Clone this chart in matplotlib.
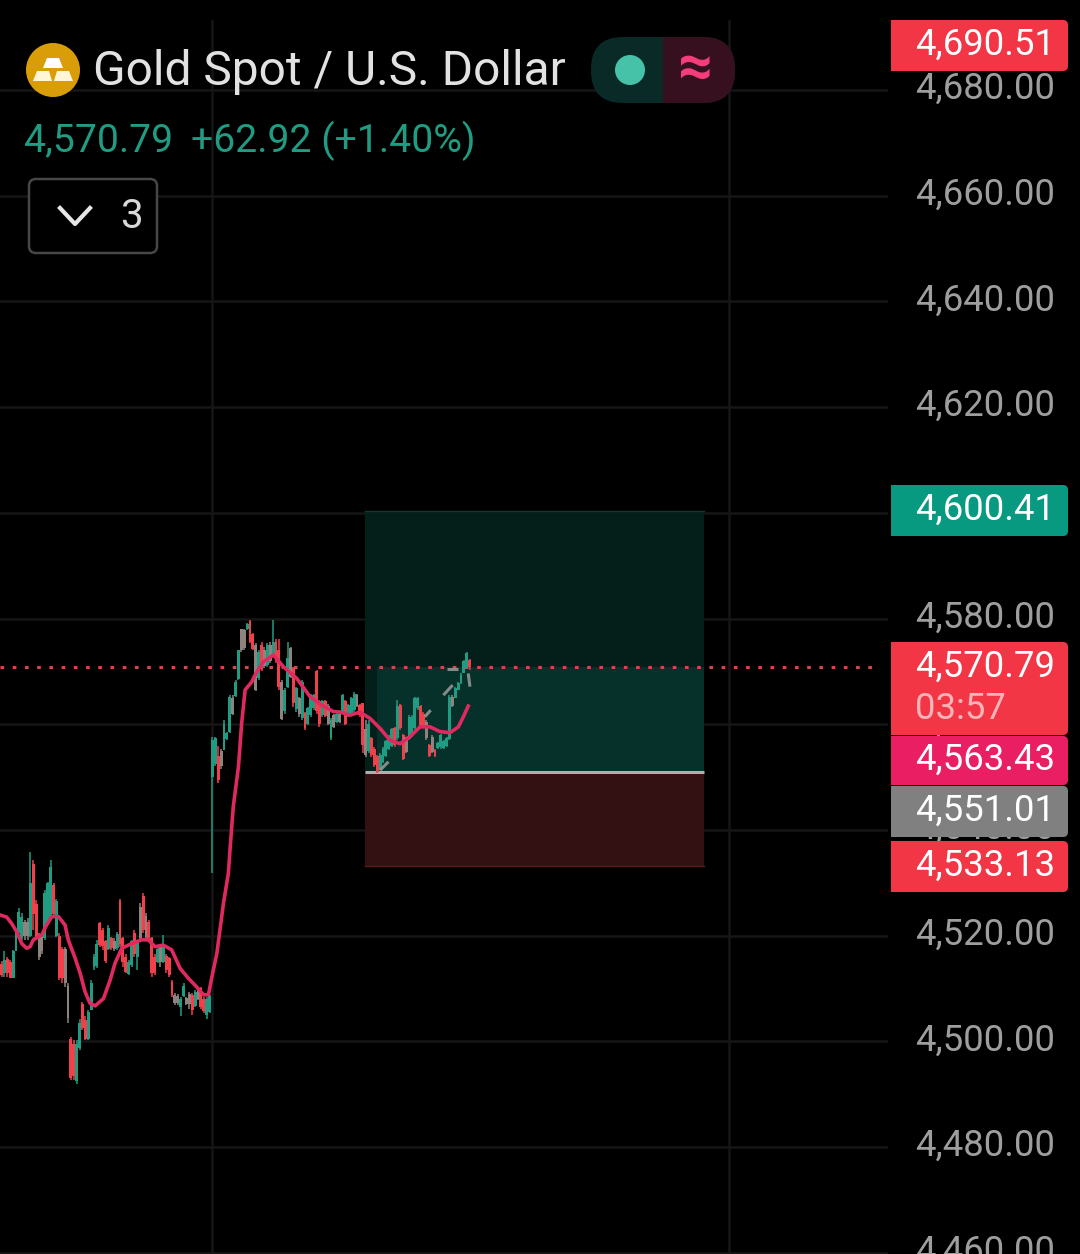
import numpy as np
import matplotlib
matplotlib.use("Agg")
import matplotlib.pyplot as plt
from matplotlib.patches import FancyBboxPatch, Rectangle, Circle, Polygon
from matplotlib.transforms import ScaledTranslation

plt.rcParams['font.family'] = ['Roboto', 'DejaVu Sans']

# candles
opens = [4514.7, 4512.9, 4515.5, 4515, 4512, 4517, 4520.4, 4519.5, 4522.5, 4520,
         4520, 4533.5, 4526, 4520, 4517, 4519.5, 4522.5, 4523.5, 4529.5, 4520,
         4520, 4517.5, 4517.5, 4510.5, 4500.5, 4499.5, 4492.5, 4498.8, 4507, 4504,
         4500.5, 4506, 4514, 4514.2, 4522.3, 4521, 4519, 4517.5, 4519.5, 4517.5,
         4517.6, 4526.5, 4519.5, 4516, 4512.8, 4514.5, 4520.5, 4516, 4519.5, 4527.5,
         4523.8, 4522.5, 4519.5, 4516, 4515, 4517.8, 4515, 4516.2, 4515.7, 4511.3,
         4508.8, 4507.2, 4506.5, 4508.6, 4508.2, 4507, 4508.8, 4506.7, 4508, 4510,
         4508, 4505, 4505.5, 4550, 4552.5, 4554, 4555, 4555.2, 4557.2, 4558.5,
         4565, 4565.3, 4568.5, 4574, 4577.8, 4578, 4579.5, 4577, 4575, 4568.8,
         4575, 4571, 4571.2, 4575, 4573, 4575.5, 4574, 4568, 4562.5, 4567,
         4574.4, 4570.6, 4562.8, 4565, 4561.2, 4562.2, 4560, 4561.8, 4563, 4570,
         4564.3, 4561.7, 4564.3, 4563.5, 4557.3, 4559.4, 4560.4, 4560.5, 4562.2, 4564.3,
         4561.6, 4562.2, 4562.6, 4565.5, 4563.6, 4564, 4554.2, 4555, 4557.4, 4555.4,
         4553.9, 4551.5, 4552.8, 4554, 4555.3, 4555.9, 4559.2, 4557.3, 4563.6, 4558,
         4554.8, 4557.3, 4558, 4559.2, 4563, 4563.4, 4562, 4560.5, 4556, 4557.6,
         4555.2, 4555.5, 4555.6, 4555.5, 4555.8, 4557.2, 4563.5, 4565, 4566.5, 4567.8,
         4569.7, 4570.7, 4572.2]
highs = [4515.1, 4517, 4516, 4515.4, 4517.3, 4521, 4525.2, 4524.2, 4523, 4523.3,
         4535.9, 4534.3, 4526.7, 4520.4, 4520.4, 4528.6, 4530.2, 4534.3, 4529.9, 4527,
         4520.4, 4517.9, 4517.9, 4511, 4500.9, 4500.2, 4500.2, 4504.3, 4507.5, 4504.7,
         4505.9, 4511.6, 4516.6, 4519.2, 4522.6, 4521.4, 4519.2, 4522, 4519.8, 4519.5,
         4520.7, 4527, 4519.8, 4516.6, 4515.4, 4519.2, 4521, 4519.2, 4526.1, 4528,
         4524.2, 4523, 4519.8, 4516.6, 4517.9, 4518.5, 4520.1, 4516.6, 4516, 4511.6,
         4509.1, 4509, 4508.4, 4511, 4508.4, 4509.4, 4509.1, 4509.7, 4510.3, 4510.3,
         4508.4, 4508.4, 4508.8, 4557.6, 4557.6, 4555.8, 4555.4, 4560.8, 4558.6, 4565.5,
         4565.5, 4568.4, 4574, 4578.1, 4578.1, 4579.1, 4579.8, 4577.2, 4575.3, 4574,
         4575.6, 4574.7, 4575.3, 4575.6, 4579.7, 4576.2, 4576.2, 4568.4, 4566.8, 4575.6,
         4574.7, 4570.9, 4567.1, 4565.2, 4568.4, 4562.4, 4563.3, 4565.8, 4565.8, 4570.3,
         4564.6, 4564.6, 4564.6, 4563.9, 4561.1, 4562, 4562.4, 4562.4, 4565.8, 4564.6,
         4563.9, 4565.2, 4566, 4565.8, 4563.9, 4564, 4560.8, 4560.8, 4557.6, 4555.7,
         4554.1, 4554.5, 4555.7, 4557, 4557.9, 4559.2, 4559.5, 4564.5, 4563.9, 4558.2,
         4557.6, 4561.7, 4561.7, 4565.2, 4565.2, 4563.6, 4562.3, 4560.8, 4556.3, 4557.9,
         4555.4, 4556.7, 4558.2, 4557, 4557.6, 4565.5, 4565.5, 4567.1, 4568, 4569.6,
         4572.1, 4573.7, 4572.4]
lows = [4512.2, 4512.2, 4512.2, 4511.9, 4511.9, 4517, 4520.4, 4519.2, 4519.2, 4519.2,
        4519.8, 4521, 4519.2, 4515.4, 4516.6, 4519.2, 4522.3, 4523, 4523.6, 4519.8,
        4511.6, 4511, 4510.3, 4503.4, 4492.7, 4492.7, 4492, 4498.4, 4502.1, 4500.2,
        4500.2, 4505.9, 4513.5, 4513.8, 4517.9, 4517.3, 4514.8, 4517.3, 4517.3, 4517,
        4517.3, 4517.9, 4514.1, 4512.9, 4512.5, 4514.1, 4516, 4513.5, 4519.2, 4520.4,
        4519.2, 4519.2, 4512.2, 4512.5, 4514.8, 4514.1, 4514.8, 4512.9, 4512.2, 4508.4,
        4506.9, 4506.8, 4504.7, 4508.4, 4506.9, 4506.2, 4505, 4506.5, 4507.8, 4506.2,
        4505.3, 4504.3, 4505.3, 4531.8, 4552, 4548.8, 4551.6, 4555.1, 4557, 4558.3,
        4561.7, 4565.2, 4568.4, 4573.7, 4574, 4577.8, 4575.3, 4574, 4566.2, 4568.4,
        4570, 4570.6, 4570.9, 4571.5, 4572.8, 4571.5, 4566.5, 4560.8, 4562, 4566.8,
        4568.7, 4563.3, 4562.4, 4561.4, 4560.8, 4558.9, 4559.8, 4561.4, 4562.7, 4562,
        4559.5, 4561.4, 4561.4, 4559.8, 4557, 4559.2, 4560.2, 4560.2, 4562, 4559.8,
        4561.4, 4562, 4562.4, 4563.3, 4561.4, 4554.5, 4553.8, 4554.5, 4553.8, 4551.9,
        4550.7, 4551.3, 4552.6, 4553.8, 4555.1, 4555.7, 4555.7, 4557, 4558.9, 4553.2,
        4554.5, 4557, 4557.6, 4558.9, 4562.7, 4559.5, 4559.5, 4557, 4553.8, 4554.5,
        4553.8, 4555.4, 4555.4, 4555.4, 4555.7, 4557, 4563.3, 4564.9, 4566.4, 4567.7,
        4569.6, 4570.5, 4570.2]
closes = [4512.5, 4515.4, 4513, 4512, 4517, 4520.5, 4524.5, 4523.5, 4520, 4522.5,
          4530, 4524, 4519.5, 4516, 4520, 4528, 4530, 4533, 4524, 4526.5,
          4512, 4512, 4511, 4504.5, 4493, 4493.5, 4499.5, 4503.5, 4502.5, 4500.5,
          4505.5, 4511, 4516, 4518.5, 4518.2, 4518, 4515.2, 4521.5, 4517.6, 4519,
          4520.3, 4518.5, 4515, 4513.2, 4515, 4519, 4516.5, 4519, 4525.5, 4521,
          4519.8, 4519.5, 4513, 4513, 4517.5, 4515, 4518, 4513.5, 4512.5, 4508.8,
          4507.2, 4508.6, 4508, 4510.5, 4507.1, 4509, 4506, 4509.3, 4510, 4506.5,
          4505.7, 4508, 4508.5, 4557, 4557.3, 4549.5, 4552, 4560, 4558.3, 4565.2,
          4562, 4568, 4574, 4578, 4574.5, 4579, 4575.5, 4574.3, 4566.5, 4573.7,
          4570.5, 4574, 4575, 4572, 4575.5, 4572, 4567, 4561, 4566.5, 4572.5,
          4569, 4564, 4566.8, 4562, 4568, 4559.2, 4563, 4565.5, 4565.5, 4562.5,
          4560, 4564.3, 4561.6, 4560, 4560.8, 4561.7, 4562, 4562, 4565.5, 4560,
          4563.7, 4565, 4565.8, 4563.5, 4561.7, 4556, 4559, 4560, 4554.2, 4552.2,
          4551, 4554.2, 4555.4, 4556.8, 4557.7, 4559, 4556, 4563.5, 4559.2, 4553.5,
          4557.2, 4561.4, 4561.4, 4565, 4565, 4559.8, 4559.8, 4557.3, 4554, 4554.8,
          4554, 4556.5, 4557.9, 4556.8, 4557.4, 4565.2, 4565.2, 4566.9, 4567.8, 4569.4,
          4572, 4573.5, 4570.79]
muted_bars = [8, 9, 13, 14, 22, 23, 39, 48, 50, 55, 60, 61, 64, 65, 68, 76, 80, 83, 84,
              88, 91, 93, 97, 100, 103, 113, 115, 117, 123, 126, 140, 147, 149, 156]

# moving average
ma_bars = [-0.5, 1.8, 3.5, 5.3, 7, 8.7, 9.9, 11, 13.9, 15.6, 17.4, 19.7, 22, 23.1, 25.5,
           27.2, 28.9, 30.6, 32.4, 35.3, 37.6, 39.3, 41.6, 45.1, 48.5, 50.8, 53.1, 56,
           58.9, 61.8, 64.7, 67.5, 69.9, 71.6, 72.7, 74.5, 75.6, 76.8, 78.5, 79.1, 80.2,
           82, 83.1, 84.3, 86.6, 87.7, 90.6, 94.1, 97.5, 102.1, 106.8, 110.8, 114.8, 117.1,
           120.6, 124, 127.5, 131, 134.4, 137.9, 141.3, 144.8, 148.3, 151.7, 155.2, 158.1,
           159.8, 161.5]
ma_vals = [4523.9, 4523.5, 4522.3, 4520.7, 4518.5, 4517.6, 4517.9, 4519.2, 4520.1, 4522,
           4523.6, 4523.6, 4522, 4519.2, 4515.7, 4512.9, 4509.4, 4507.2, 4506.7, 4508.1,
           4511.6, 4514.8, 4517.6, 4518.5, 4519.2, 4519.2, 4517.9, 4518.2, 4517.3, 4513.8,
           4511.9, 4510.3, 4508.8, 4508.8, 4511.9, 4516.6, 4521.1, 4526.1, 4531.8, 4536.5,
           4544.4, 4552, 4560.2, 4566.5, 4568, 4569.3, 4571.8, 4573.1, 4570.9, 4568.7,
           4565.2, 4563.6, 4562.4, 4562.3, 4561.7, 4562.3, 4561.1, 4559.2, 4557, 4556.3,
           4557.6, 4559.5, 4559.5, 4558.6, 4558.4, 4559.5, 4561.4, 4563.43]

# grey projection dashes
dash_bars = [(131, 133.9), (139, 141.3), (146.5, 148.5), (152.9, 156.1), (154, 158), (161.5, 162.1)]
dash_vals = [(4551.3, 4552.9), (4557, 4557.6), (4561.4, 4562.65), (4565.5, 4567.4),
             (4570.5, 4570.5), (4569.6, 4567.1)]

price_ticks = [4460, 4480, 4500, 4520, 4540, 4560, 4580, 4600, 4620, 4640, 4660, 4680]
session_bars = [72.8, 251.7]
last_price = 4570.79
target_price = 4600.41
entry_price = 4551.01
stop_price = 4533.13
position_bars = (125.8, 243.1)
live_from_bar = 130

tag_texts = ['4,690.51', '4,600.41', '4,570.79', '4,563.43', '4,551.01', '4,533.13']
tag_tops = [20, 485, 642, 736, 786, 841]
tag_bottoms = [71, 536, 735, 785, 837, 892]
tag_colors = ['#f23645', '#089981', '#f23645', '#e91e63', '#808080', '#f23645']
tag_text_y = [45, 510, 667, 760, 811, 866]

UP = '#1f9c82'
DOWN = '#f23f4c'
MUTED = '#8f8380'
W, H = 1080, 1254

fig = plt.figure(figsize=(10.8, 12.54), dpi=100, facecolor='black')
ax = fig.add_axes([0, 0, 888 / W, 1 - 20 / H], facecolor='black')
ax.set_xlim(-0.52, (888 - 1.5) / 2.89)
ax.set_ylim(4680 - 1164 / 5.285, 4680 + 70 / 5.285)
for s in ax.spines.values():
    s.set_visible(False)

ax.set_yticks(price_ticks)
ax.set_yticklabels([f'{p:,.2f}' for p in price_ticks])
ax.yaxis.tick_right()
ax.tick_params(axis='y', length=0, pad=19.2, labelsize=26.3, labelcolor='#9e9e9e')
for lbl in ax.get_yticklabels():
    lbl.set_transform(lbl.get_transform() + ScaledTranslation(0, 5 / 100, fig.dpi_scale_trans))
ax.set_xticks(session_bars)
ax.tick_params(axis='x', length=0, labelbottom=False)
ax.grid(True, color='#161616', linewidth=1.8)
ax.set_axisbelow(True)

# long position box
x0, x1 = position_bars
ax.add_patch(Rectangle((x0, entry_price), x1 - x0, target_price - entry_price,
                       facecolor='#041f1a', edgecolor='none', zorder=1))
ax.add_patch(Rectangle((live_from_bar, entry_price), x1 - live_from_bar, last_price - entry_price,
                       facecolor='#05312a', edgecolor='none', zorder=1.1))
ax.add_patch(Rectangle((x0, stop_price), x1 - x0, entry_price - stop_price,
                       facecolor='#331012', edgecolor='none', zorder=1))
ax.plot([x0, x1], [target_price, target_price], color='#0a3a31', lw=1, zorder=1.2)
ax.plot([x0, x1], [stop_price, stop_price], color='#5a1a1e', lw=1, zorder=1.2)
ax.plot([x0, x1], [entry_price, entry_price], color='#aeaeae', lw=2.2, zorder=1.3, solid_capstyle='butt')

ax.plot([-0.52, 304], [last_price, last_price], color='#d9434f', lw=2.2,
        linestyle=(0, (1.2, 2.8)), zorder=1.5)

# candles
bars = np.arange(len(opens))
colors = []
for i in bars:
    if i in muted_bars:
        colors.append(MUTED)
    elif closes[i] >= opens[i]:
        colors.append(UP)
    else:
        colors.append(DOWN)
ax.vlines(bars, lows, highs, colors=colors, linewidth=1.1, zorder=3)
body_low = np.minimum(opens, closes)
body_h = np.abs(np.array(closes) - np.array(opens))
ax.bar(bars, body_h, bottom=body_low, width=1.0, color=colors, linewidth=0, zorder=3)

for bx, by in zip(dash_bars, dash_vals):
    ax.plot(bx, by, color='#9a9a9a', lw=2.2, alpha=0.85, zorder=4, solid_capstyle='butt')

ax.plot(ma_bars, ma_vals, color='#e0295f', lw=2.6, zorder=5, solid_joinstyle='round')

# header, tags: pixel coordinates
ui = fig.add_axes([0, 0, 1, 1], facecolor='none', zorder=5)
ui.set_xlim(0, W)
ui.set_ylim(H, 0)
ui.axis('off')

for label, top, bottom, col, ty in zip(tag_texts, tag_tops, tag_bottoms, tag_colors, tag_text_y):
    ui.add_patch(FancyBboxPatch((891, top), 177, bottom - top,
                                boxstyle='round,pad=0,rounding_size=5', mutation_aspect=1,
                                facecolor=col, edgecolor='none'))
    ui.add_patch(Rectangle((891, top), 10, bottom - top, facecolor=col, edgecolor='none'))
    ui.text(915, ty, label, color='white', fontsize=26.3, va='center', ha='left')
ui.text(915, 709, '03:57', color='#ffb4b9', fontsize=26.3, va='center', ha='left')

# gold icon
ui.add_patch(Circle((53, 70), 27, facecolor='#d99e07', edgecolor='none'))
ui.add_patch(Polygon([(47, 58), (59, 58), (63, 68), (43, 68)], facecolor='white', edgecolor='none'))
ui.add_patch(Polygon([(37, 71), (49, 71), (52, 81), (33, 81)], facecolor='#fff6d8', edgecolor='none'))
ui.add_patch(Polygon([(57, 71), (69, 71), (73, 81), (54, 81)], facecolor='#fff6d8', edgecolor='none'))

ui.text(93, 72, 'Gold Spot / U.S. Dollar', color='#e2e2e2', fontsize=34.5, va='center', ha='left')
ui.text(24, 141, '4,570.79', color=UP, fontsize=28.2, va='center', ha='left')
ui.text(191, 141, '+62.92 (+1.40%)', color=UP, fontsize=28.2, va='center', ha='left')

# collapsed indicators button
ui.add_patch(FancyBboxPatch((29, 179), 128, 74, boxstyle='round,pad=0,rounding_size=7',
                            facecolor='black', edgecolor='#474747', linewidth=1.8))
ui.plot([60, 75, 90], [208, 224, 208], color='#e6e6e6', lw=3)
ui.text(131, 217, '3', color='#d8d8d8', fontsize=29, va='center', ha='center')

# status pill
pill_left = FancyBboxPatch((591, 37), 144, 66, boxstyle='round,pad=0,rounding_size=32',
                           facecolor='#0a2a27', edgecolor='none')
ui.add_patch(pill_left)
pill_right = FancyBboxPatch((591, 37), 144, 66, boxstyle='round,pad=0,rounding_size=32',
                            facecolor='#36101f', edgecolor='none')
ui.add_patch(pill_right)
pill_right.set_clip_path(Rectangle((663, 30), 80, 80, transform=ui.transData))
ui.add_patch(Circle((630, 70), 15, facecolor='#45c2a8', edgecolor='none'))
ui.text(696, 69, '≈', color='#f53d7c', fontsize=44, fontweight='bold', va='center', ha='center')

fig.savefig('out.png', dpi=100, facecolor='black')
